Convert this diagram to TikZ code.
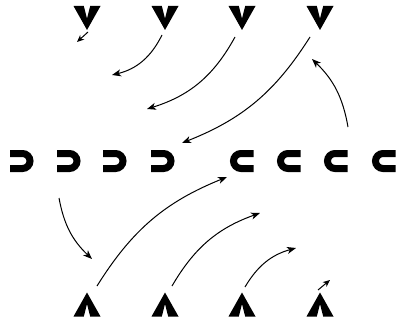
\documentclass[tikz,border=0pt]{standalone}
\usepackage{tikz}
\usetikzlibrary{arrows.meta, positioning}

\tikzset{
    vee/.pic={\fill (-13.5,12) -- (-3.2,12) -- (0,-0.5) -- (3.2,12) -- (13.5,12) -- (0,-12) -- cycle;},
    hat/.pic={\fill (-13.5,-12) -- (-3.2,-12) -- (0,0.5) -- (3.2,-12) -- (13.5,-12) -- (0,12) -- cycle;},
    capR/.pic={\draw[line width=7pt] (0,7.5) -- (12.5,7.5) arc[start angle=90, end angle=-90, radius=7.5] -- (0,-7.5);},
    capL/.pic={\draw[line width=7pt] (23.5,7.5) -- (11,7.5) arc[start angle=90, end angle=270, radius=7.5] -- (23.5,-7.5);},
    small/.style={-{Stealth[length=7pt, width=6pt, inset=2pt]}}
}

\begin{document}
\begin{tikzpicture}[x=1pt, y=1pt, >={Stealth[length=9pt, width=7pt, inset=2.5pt]}, line width=1pt]
    \useasboundingbox (0,0) rectangle (401,322);

    % Hàng trên
    \pic (v1) at (87,304) {vee};
    \pic (v2) at (165,304) {vee};
    \pic (v3) at (242,304) {vee};
    \pic (v4) at (320,304) {vee};

    % Hàng giữa
    \pic (m1) at (10,161) {capR};
    \pic (m2) at (57,161) {capR};
    \pic (m3) at (103,161) {capR};
    \pic (m4) at (151,161) {capR};
    \pic (m5) at (230,161) {capL};
    \pic (m6) at (277,161) {capL};
    \pic (m7) at (324,161) {capL};
    \pic (m8) at (372,161) {capL};

    % Hàng dưới
    \pic (a1) at (87,17.5) {hat};
    \pic (a2) at (165,17.5) {hat};
    \pic (a3) at (242,17.5) {hat};
    \pic (a4) at (320,17.5) {hat};

    % Điểm đầu, điểm cuối của các mũi tên
    \coordinate (s1) at (88,290);  \coordinate (e1) at (77,280);
    \coordinate (s2) at (162,287); \coordinate (e2) at (112,247);
    \coordinate (s3) at (235,285); \coordinate (e3) at (147,213);
    \coordinate (s4) at (310,285); \coordinate (e4) at (182,179);
    \coordinate (s5) at (348,195); \coordinate (e5) at (312,263);
    \coordinate (s6) at (59,124);  \coordinate (e6) at (92,63);
    \coordinate (s7) at (97,36);   \coordinate (e7) at (227,145);
    \coordinate (s8) at (172,36);  \coordinate (e8) at (260,109);
    \coordinate (s9) at (245,35);  \coordinate (e9) at (296,74);
    \coordinate (s10) at (318,32); \coordinate (e10) at (330,42);

    % Các mũi tên
    \draw[small] (s1) -- (e1);
    \draw[->] (s2) to[bend left=25] (e2);
    \draw[->] (s3) to[bend left=22] (e3);
    \draw[->] (s4) to[bend left=18] (e4);
    \draw[->] (s5) to[bend right=18] (e5);
    \draw[->] (s6) to[bend right=18] (e6);
    \draw[->] (s7) to[bend left=18] (e7);
    \draw[->] (s8) to[bend left=20] (e8);
    \draw[->] (s9) to[bend left=22] (e9);
    \draw[small] (s10) -- (e10);
\end{tikzpicture}
\end{document}
